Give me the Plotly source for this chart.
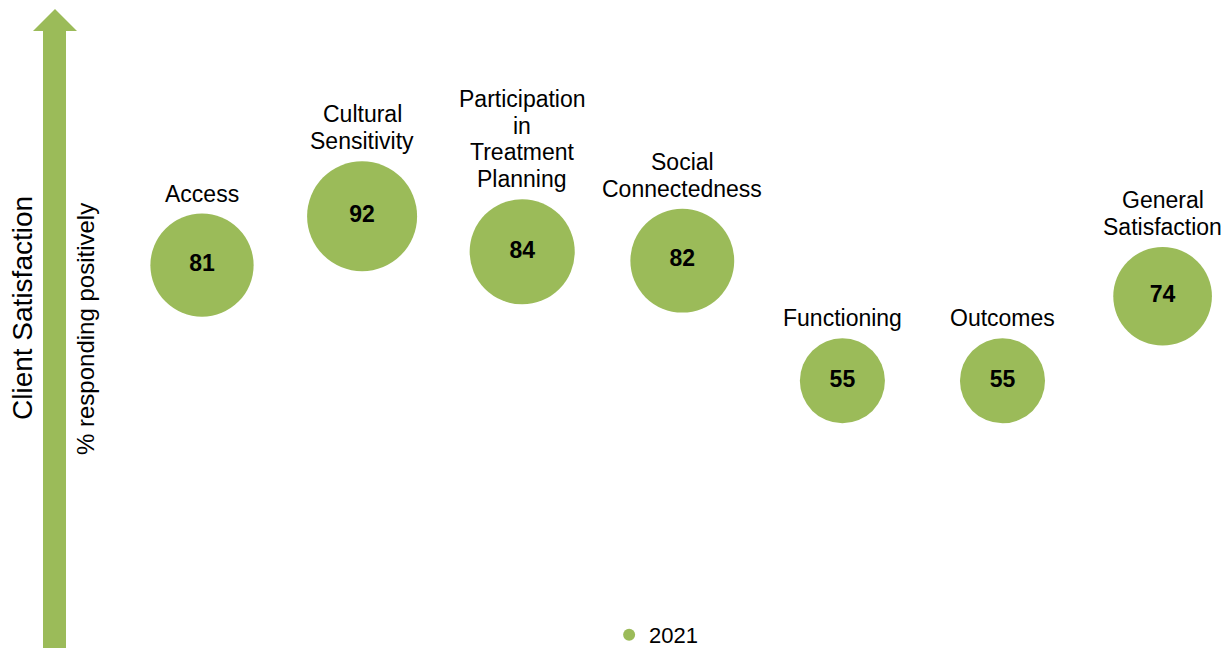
import math
import plotly.graph_objects as go

categories = ["Access", "Cultural<br>Sensitivity", "Participation<br>in<br>Treatment<br>Planning",
              "Social<br>Connectedness", "Functioning", "Outcomes", "General<br>Satisfaction"]
values_2021 = [81, 92, 84, 82, 55, 55, 74]
series_name = "2021"

GREEN = "#9BBB59"
FONT = "Liberation Sans, Arial, sans-serif"
W, H = 1231, 648

xs = list(range(len(categories)))
# bubble diameter (px) ~ 110 * sqrt(value / 92)
sizeref = 2 * 92 / (110 ** 2)

fig = go.Figure()
# bubbles with values inside
fig.add_trace(go.Scatter(
    x=xs, y=values_2021, mode="markers+text", name=series_name,
    text=[str(v) for v in values_2021], texttemplate="<b>%{text}</b>",
    textposition="middle center",
    textfont=dict(family=FONT, size=23, color="black"),
    marker=dict(size=values_2021, sizemode="area", sizeref=sizeref, color=GREEN,
                opacity=1, line=dict(width=0)),
    hoverinfo="skip", showlegend=True, cliponaxis=False,
))

# category labels above the bubbles, one annotation per line (tighter line spacing)
LINE = 26.8
for xi, cat, v in zip(xs, categories, values_2021):
    radius = math.sqrt(2 * v / sizeref) / 2
    lines = cat.split("<br>")
    for k, line in enumerate(reversed(lines)):
        fig.add_annotation(x=xi, y=v, xref="x", yref="y", text=line, showarrow=False,
                           xanchor="center", yanchor="bottom",
                           yshift=radius + 5 + k * LINE,
                           font=dict(family=FONT, size=23, color="black"))

# axis ranges mapping to the reference layout
cx0, dx = 202, 160.1
fig.update_xaxes(range=[-cx0 / dx, (W - cx0) / dx], visible=False, domain=[0, 1],
                 automargin=False)
y0px, dy = 625.5, 4.449
fig.update_yaxes(range=[(y0px - H) / dy, y0px / dy], visible=False, domain=[0, 1],
                 automargin=False)

# arrow on the left (pixel positions)
def px(x, y):
    return f"{x / W:.5f},{1 - y / H:.5f}"

arrow_pts = [(55, 9), (77, 31), (66, 31), (66, 648), (43, 648), (43, 31), (33, 31)]
path = "M " + " L ".join(px(x, y) for x, y in arrow_pts) + " Z"
fig.add_shape(type="path", path=path, xref="paper", yref="paper",
              fillcolor=GREEN, line=dict(width=0), layer="below")

fig.add_annotation(text="Client Satisfaction", textangle=-90, xref="paper", yref="paper",
                   x=22 / W, y=1 - 308 / H, xanchor="center", yanchor="middle",
                   showarrow=False, font=dict(family=FONT, size=28, color="black"))
fig.add_annotation(text="% responding positively", textangle=-90, xref="paper", yref="paper",
                   x=85 / W, y=1 - 329 / H, xanchor="center", yanchor="middle",
                   showarrow=False, font=dict(family=FONT, size=24, color="black"))

fig.update_layout(
    width=W, height=H,
    margin=dict(l=0, r=0, t=0, b=0, autoexpand=False),
    paper_bgcolor="white", plot_bgcolor="white",
    showlegend=True,
    legend=dict(orientation="h", x=0.533, xanchor="center", y=13 / H, yanchor="middle",
                itemsizing="constant", font=dict(family=FONT, size=22, color="black"),
                bgcolor="rgba(0,0,0,0)"),
    hovermode=False,
)

fig.write_html("out.html", config={"displayModeBar": False},
               post_script="document.body.style.margin='0';")
